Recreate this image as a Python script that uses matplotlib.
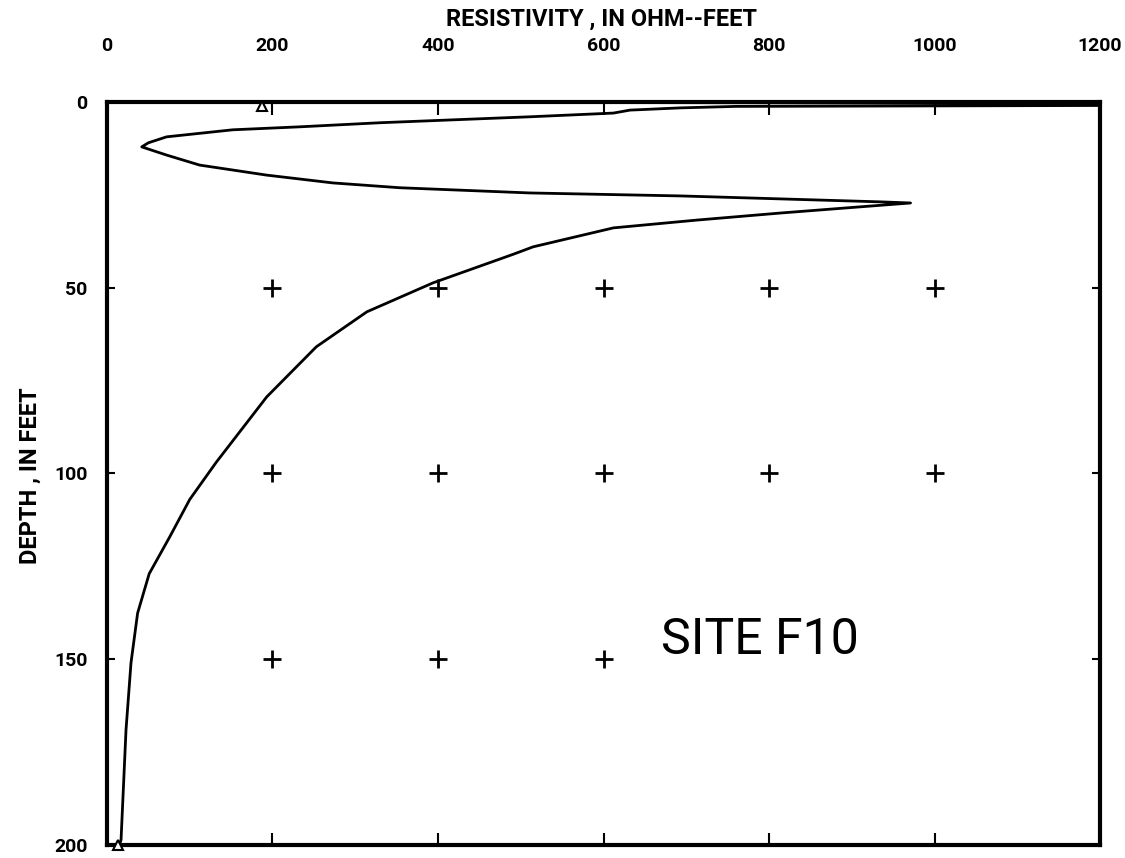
import numpy as np
import matplotlib
matplotlib.use("Agg")
import matplotlib.pyplot as plt

# resistivity log, in drawing order (top -> bottom)
resistivity = [120, 1300, 1300, 760, 693, 632, 612, 511, 330, 233, 152, 72, 50, 42,
               72, 112, 193, 273, 354, 511, 693, 814, 935, 971,
               895, 814, 713, 612, 515, 491, 394, 314, 253, 193, 132,
               100, 76, 51, 37, 29, 23, 17, 15]
depth = [0.0, 0.4, 0.9, 1.2, 1.6, 2.2, 3.0, 4.0, 5.6, 6.7, 7.5, 9.4, 11.0, 12.1,
         14.3, 17.0, 19.7, 21.8, 23.1, 24.5, 25.3, 26.1, 26.9, 27.2,
         28.5, 29.9, 31.8, 33.9, 39.0, 41.0, 48.7, 56.5, 65.9, 79.4, 97.0,
         107.0, 117.0, 127.0, 137.6, 151.0, 169.0, 198.6, 200.0]

# open triangles at the ends of the log
tri_res = [187, 13]
tri_depth = [1.2, 200.0]

# grid crosses
cross_res = [200, 400, 600, 800, 1000, 200, 400, 600, 800, 1000, 200, 400, 600]
cross_depth = [50, 50, 50, 50, 50, 100, 100, 100, 100, 100, 150, 150, 150]

x_ticks = [0, 200, 400, 600, 800, 1000, 1200]
y_ticks = [0, 50, 100, 150, 200]

font = ['Roboto', 'DejaVu Sans']

fig = plt.figure(figsize=(11.25, 8.58), dpi=100)
ax = fig.add_axes([0.0951, 0.0152, 0.8827, 0.8660])

ax.plot(resistivity, depth, color='black', linewidth=2.0, solid_joinstyle='round')
ax.plot(cross_res, cross_depth, linestyle='none', marker='+', markersize=13,
        markeredgewidth=2.0, color='black')
ax.plot(tri_res, tri_depth, linestyle='none', marker='^', markersize=7,
        markerfacecolor='white', markeredgecolor='black', markeredgewidth=1.5,
        clip_on=False, zorder=5)

ax.set_xlim(0, 1200)
ax.set_ylim(200, 0)

for s in ax.spines.values():
    s.set_linewidth(3.0)

ax.xaxis.tick_top()
ax.set_xticks(x_ticks)
ax.set_yticks(y_ticks)
ax.tick_params(axis='x', which='both', direction='in', length=9, width=1.5,
               top=True, bottom=True, labeltop=True, labelbottom=False, pad=34)
ax.tick_params(axis='y', which='both', direction='in', length=6, width=1.5,
               left=True, right=True, pad=14)
ax.set_xticklabels([str(v) for v in x_ticks], family=font, fontweight='bold', fontsize=14)
ax.set_yticklabels([str(v) for v in y_ticks], family=font, fontweight='bold', fontsize=14)

fig.text(0.535, 0.978, 'RESISTIVITY , IN OHM--FEET', ha='center', va='center',
         family=font, fontweight='bold', fontsize=17)
fig.text(0.027, 0.446, 'DEPTH , IN FEET', ha='center', va='center', rotation=90,
         family=font, fontweight='bold', fontsize=17)

ax.text(789, 144.8, 'SITE F10', ha='center', va='center', family=font, fontsize=36)

fig.savefig('out.png', dpi=100)
